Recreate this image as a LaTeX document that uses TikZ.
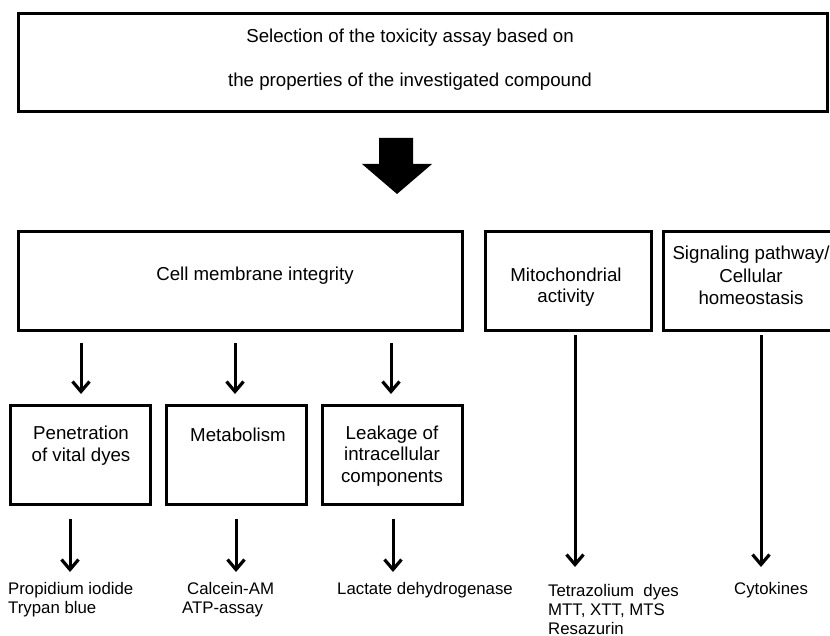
\documentclass[tikz,border=0pt]{standalone}
\usepackage{fontspec}
\setmainfont{Liberation Sans}
\usetikzlibrary{arrows.meta,calc}
\begin{document}
\begin{tikzpicture}[x=1pt,y=-1pt,
  box/.style={draw, line width=3pt, inner sep=0pt, outer sep=0pt},
  txt/.style={inner sep=0pt, align=center, font=\fontsize{18.7}{21.5}\selectfont},
  lab/.style={inner sep=0pt, align=left, anchor=west, font=\fontsize{16.8}{19}\selectfont},
  arr/.style={line width=3pt, -{Straight Barb[length=10pt,width=17pt,line width=3.2pt]}}]
\clip (0,0) rectangle (830,636);
\fill[white] (0,0) rectangle (830,636);
% top box
\node[box, minimum width=809pt, minimum height=98pt] (top) at (422.5,63) {};
\node[txt, font=\fontsize{18.7}{44}\selectfont] (toptxt) at (410,60) {Selection of the toxicity assay based on\\the properties of the investigated compound};
% big arrow
\fill (379,138) -- (413,138) -- (413,164) -- (432,164) -- (397,194) -- (362,164) -- (379,164) -- cycle;
% second row
\node[box, minimum width=444pt, minimum height=99pt] (cm) at (240,281.5) {};
\node[txt] (cmt) at (255,276) {Cell membrane integrity};
\node[box, minimum width=166pt, minimum height=99pt] (mito) at (568,281.5) {};
\node[txt] (mitot) at (566,287) {Mitochondrial\\activity};
\node[box, minimum width=187pt, minimum height=99pt] (sig) at (756.5,281.5) {};
\node[txt, font=\fontsize{18.7}{22.5}\selectfont] (sigt) at (751,275.5) {Signaling pathway/\\Cellular\\homeostasis};
% third row
\node[box, minimum width=140pt, minimum height=99pt] (pen) at (80,454.5) {};
\node[box, minimum width=140pt, minimum height=99pt] (met) at (236,454.5) {};
\node[box, minimum width=140pt, minimum height=99pt] (leak) at (392,454.5) {};
\node[txt] (pent) at (81,445.5) {Penetration\\of vital dyes};
\node[txt] (mett) at (238,435) {Metabolism};
\node[txt] (leakt) at (392,456) {Leakage of\\intracellular\\components};
% bottom labels
\node[lab] (prop) at (8,599.5) {Propidium iodide\\Trypan blue};
\node[lab] (calc) at (182,599.5) {\hspace*{5pt}Calcein-AM\\ATP-assay};
\node[lab] (lact) at (337,590) {Lactate dehydrogenase};
\node[lab] (tetra) at (548,609) {Tetrazolium\ \ dyes\\MTT, XTT, MTS\\Resazurin};
\node[lab] (cyto) at (734,590) {Cytokines};
% arrows
\draw[arr] ($(pen.north |- cm.south)+(1,12)$) -- ($(pen.north)+(1,-11)$);
\draw[arr] ($(met.north |- cm.south)+(-1,12)$) -- ($(met.north)+(-1,-11)$);
\draw[arr] ($(leak.north |- cm.south)+(-1,12)$) -- ($(leak.north)+(-1,-11)$);
\draw[arr] ($(pen.south)+(-10,15)$) -- ($(pen.south)+(-10,68)$);
\draw[arr] ($(met.south)+(0,15)$) -- ($(met.south)+(0,68)$);
\draw[arr] ($(leak.south)+(1,15)$) -- ($(leak.south)+(1,68)$);
\draw[arr] ($(mito.south)+(7,4)$) -- ($(mito.south)+(7,236)$);
\draw[arr] ($(sig.south)+(4.5,4)$) -- ($(sig.south)+(4.5,236)$);
\end{tikzpicture}
\end{document}
